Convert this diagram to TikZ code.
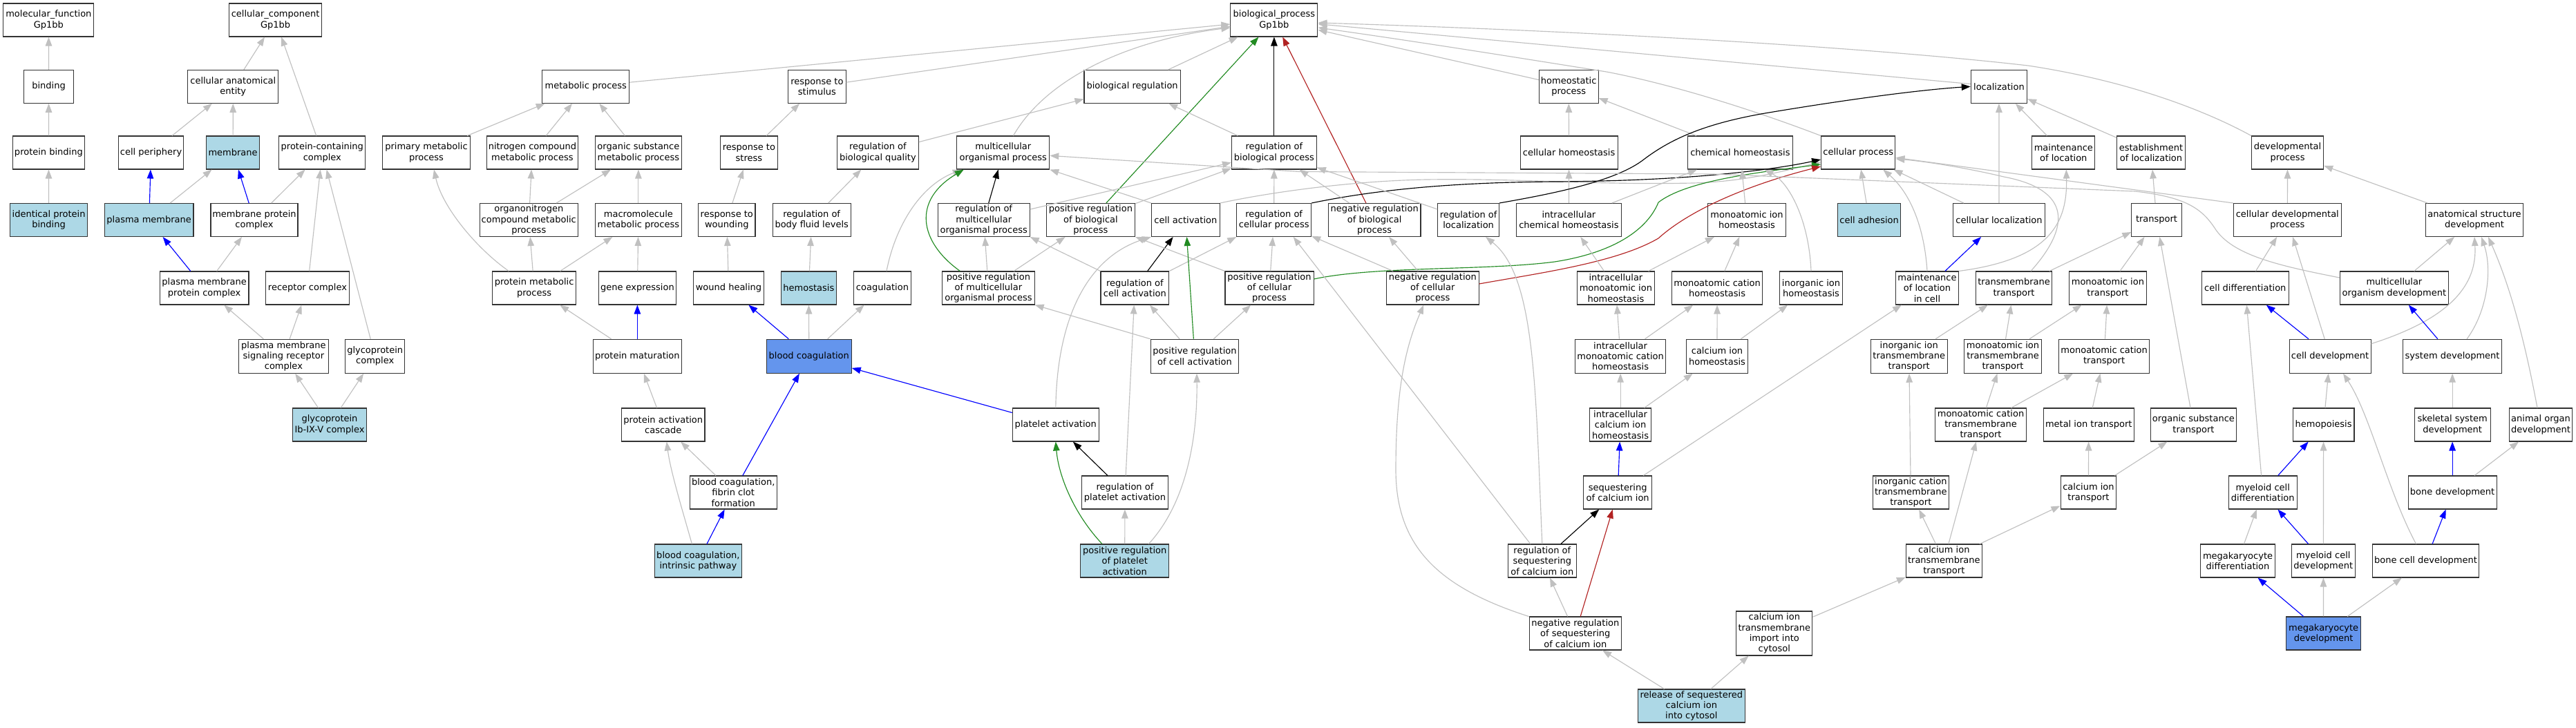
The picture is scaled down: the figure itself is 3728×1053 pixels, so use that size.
\documentclass[tikz,border=0pt]{standalone}
\usepackage{fontspec}
\setmainfont{DejaVu Sans}
\usetikzlibrary{arrows.meta}
\definecolor{lbl}{HTML}{ADD8E6}
\definecolor{cfb}{HTML}{6495ED}
\definecolor{egray}{HTML}{C0C0C0}
\definecolor{egreen}{HTML}{228B22}
\definecolor{ered}{HTML}{B22222}
\tikzset{
 box/.style={draw=black!80, line width=1.05pt, fill=white, align=center, inner sep=0pt, minimum height=48pt, font=\fontsize{13}{15.2}\selectfont},
 lbox/.style={box, fill=lbl},
 cbox/.style={box, fill=cfb},
 ed/.style={draw=egray, line width=1.15pt, -{Triangle[length=13pt,width=9.5pt]}},
 edb/.style={ed, draw=blue},
 edk/.style={ed, draw=black},
 edg/.style={ed, draw=egreen},
 edr/.style={ed, draw=ered},
}
\begin{document}
\begin{tikzpicture}[x=1pt,y=-1pt]
\useasboundingbox (0,0) rectangle (3728,1053);
% ---------- row 1
\node[box,minimum width=131pt] (mf) at (70.4,29) {molecular\_function\\Gp1bb};
\node[box,minimum width=134pt] (cc) at (398.6,29) {cellular\_component\\Gp1bb};
\node[box,minimum width=126pt] (bp) at (1843.9,29) {biological\_process\\Gp1bb};
% ---------- row 2
\node[box,minimum width=72.6pt] (bind) at (70.6,125.3) {binding};
\node[box,minimum width=131pt] (cae) at (337.3,125.3) {cellular anatomical\\entity};
\node[box,minimum width=125.7pt] (mp) at (847.8,125.3) {metabolic process};
\node[box,minimum width=83.3pt] (rstim) at (1182.4,125.3) {response to\\stimulus};
\node[box,minimum width=139.2pt] (breg) at (1638.6,125.3) {biological regulation};
\node[box,minimum width=85.7pt] (homp) at (2270.2,125.3) {homeostatic\\process};
\node[box,minimum width=81.3pt] (loc) at (2892.9,125.3) {localization};
% ---------- row 3
\node[box,minimum width=104pt] (pb) at (70.4,221) {protein binding};
\node[box,minimum width=94.3pt] (cper) at (218.6,221) {cell periphery};
\node[lbox,minimum width=77.5pt] (memb) at (337.1,221) {membrane};
\node[box,minimum width=125.3pt] (pcc) at (466.3,221) {protein-containing\\complex};
\node[box,minimum width=126.5pt] (pmp) at (617,221) {primary metabolic\\process};
\node[box,minimum width=131.8pt] (ncmp) at (770.4,221) {nitrogen compound\\metabolic process};
\node[box,minimum width=125.3pt] (osmp) at (923.9,221) {organic substance\\metabolic process};
\node[box,minimum width=82.9pt] (rstress) at (1083.9,221) {response to\\stress};
\node[box,minimum width=118pt] (rbq) at (1270.4,221) {regulation of\\biological quality};
\node[box,minimum width=133.9pt] (mop) at (1451.8,221) {multicellular\\organismal process};
\node[box,minimum width=122.9pt] (rbp) at (1843.9,221) {regulation of\\biological process};
\node[box,minimum width=141.2pt] (chom) at (2270.6,221) {cellular homeostasis};
\node[box,minimum width=152pt] (chemh) at (2518.4,221) {chemical homeostasis};
\node[box,minimum width=107.3pt] (cp) at (2689.2,221) {cellular process};
\node[box,minimum width=91pt] (mol) at (2986.3,221) {maintenance\\of location};
\node[box,minimum width=98.7pt] (eol) at (3113,221) {establishment\\of localization};
\node[box,minimum width=104.2pt] (dp) at (3310.5,221) {developmental\\process};
% ---------- row 4
\node[lbox,minimum width=112.6pt] (ipb) at (70.6,318.5) {identical protein\\binding};
\node[lbox,minimum width=128.6pt] (pm) at (215.7,318.5) {plasma membrane};
\node[box,minimum width=126pt] (mpc) at (368,318.5) {membrane protein\\complex};
\node[box,minimum width=142pt] (oncmp) at (765.3,318.5) {organonitrogen\\compound metabolic\\process};
\node[box,minimum width=125.3pt] (mmp) at (923.9,318.5) {macromolecule\\metabolic process};
\node[box,minimum width=82.4pt] (rwound) at (1051.8,318.5) {response to\\wounding};
\node[box,minimum width=112.7pt] (rbfl) at (1174.7,318.5) {regulation of\\body fluid levels};
\node[box,minimum width=133pt] (rmo) at (1423.7,318.5) {regulation of\\multicellular\\organismal process};
\node[box,minimum width=128.2pt] (prbp) at (1578.4,318.5) {positive regulation\\of biological\\process};
\node[box,minimum width=98.8pt] (ca) at (1715.9,318.5) {cell activation};
\node[box,minimum width=107.8pt] (rcp) at (1843.7,318.5) {regulation of\\cellular process};
\node[box,minimum width=133.5pt] (nrbp) at (1989.2,318.5) {negative regulation\\of biological\\process};
\node[box,minimum width=88.6pt] (rloc) at (2125.1,318.5) {regulation of\\localization};
\node[box,minimum width=152.2pt] (ichem) at (2270.4,318.5) {intracellular\\chemical homeostasis};
\node[box,minimum width=112.3pt] (mih) at (2528,318.5) {monoatomic ion\\homeostasis};
\node[lbox,minimum width=91pt] (cadh) at (2705.1,318.5) {cell adhesion};
\node[box,minimum width=133.1pt] (cloc) at (2893,318.5) {cellular localization};
\node[box,minimum width=72.2pt] (trans) at (3121,318.5) {transport};
\node[box,minimum width=155.8pt] (cdp) at (3310.3,318.5) {cellular developmental\\process};
\node[box,minimum width=141.6pt] (asd) at (3581,318.5) {anatomical structure\\development};
% ---------- row 5
\node[box,minimum width=128.6pt] (pmpc) at (295.7,417) {plasma membrane\\protein complex};
\node[box,minimum width=120.4pt] (rc) at (445,417) {receptor complex};
\node[box,minimum width=120.8pt] (pmetp) at (773.1,417) {protein metabolic\\process};
\node[box,minimum width=112.7pt] (gexp) at (922.4,417) {gene expression};
\node[box,minimum width=101.6pt] (wh) at (1054.5,417) {wound healing};
\node[lbox,minimum width=80.4pt] (hemo) at (1170.4,417) {hemostasis};
\node[box,minimum width=82.5pt] (coag) at (1277,417) {coagulation};
\node[box,minimum width=133.4pt] (prmo) at (1430.4,417) {positive regulation\\of multicellular\\organismal process};
\node[box,minimum width=98.8pt] (rca) at (1642.4,417) {regulation of\\cell activation};
\node[box,minimum width=128pt] (prcp) at (1837,417) {positive regulation\\of cellular\\process};
\node[box,minimum width=133.5pt] (nrcp) at (2073.3,417) {negative regulation\\of cellular\\process};
\node[box,minimum width=111.9pt] (imih) at (2338.4,417) {intracellular\\monoatomic ion\\homeostasis};
\node[box,minimum width=131pt] (mch) at (2485.1,417) {monoatomic cation\\homeostasis};
\node[box,minimum width=91pt] (iih) at (2621,417) {inorganic ion\\homeostasis};
\node[box,minimum width=90.6pt] (mlic) at (2789,417) {maintenance\\of location\\in cell};
\node[box,minimum width=109.8pt] (tt) at (2914.5,417) {transmembrane\\transport};
\node[box,minimum width=112.2pt] (mit) at (3050.4,417) {monoatomic ion\\transport};
\node[box,minimum width=125.7pt] (cdiff) at (3249.3,417) {cell differentiation};
\node[box,minimum width=157.4pt] (mod) at (3464.9,417) {multicellular\\organism development};
% ---------- row 6
\node[box,minimum width=129.4pt,minimum height=49pt] (pmsrc) at (410.4,515.7) {plasma membrane\\signaling receptor\\complex};
\node[box,minimum width=86pt,minimum height=49pt] (gpc) at (542.7,515.7) {glycoprotein\\complex};
\node[box,minimum width=128.2pt,minimum height=49pt] (pmat) at (922.4,515.7) {protein maturation};
\node[cbox,minimum width=122.8pt,minimum height=49pt] (bc) at (1170.8,515.7) {blood coagulation};
\node[box,minimum width=127.7pt,minimum height=49pt] (prca) at (1729,515.7) {positive regulation\\of cell activation};
\node[box,minimum width=131pt,minimum height=49pt] (imch) at (2345.1,515.7) {intracellular\\monoatomic cation\\homeostasis};
\node[box,minimum width=89pt,minimum height=49pt] (cih) at (2485,515.7) {calcium ion\\homeostasis};
\node[box,minimum width=110.6pt,minimum height=49pt] (iitt) at (2762.7,515.7) {inorganic ion\\transmembrane\\transport};
\node[box,minimum width=112.2pt,minimum height=49pt] (mitt) at (2898.5,515.7) {monoatomic ion\\transmembrane\\transport};
\node[box,minimum width=131pt,minimum height=49pt] (mct) at (3045.1,515.7) {monoatomic cation\\transport};
\node[box,minimum width=118pt,minimum height=49pt] (cdev) at (3372,515.7) {cell development};
\node[box,minimum width=143.6pt,minimum height=49pt] (sysdev) at (3549.1,515.7) {system development};
% ---------- row 7
\node[lbox,minimum width=107.8pt] (gpib) at (477,615) {glycoprotein\\Ib-IX-V complex};
\node[box,minimum width=120.4pt] (pac) at (959.8,615) {protein activation\\cascade};
\node[box,minimum width=125pt] (pa) at (1527.8,615) {platelet activation};
\node[box,minimum width=88.6pt] (icih) at (2345.1,615) {intracellular\\calcium ion\\homeostasis};
\node[box,minimum width=131.4pt] (mctt) at (2866.5,615) {monoatomic cation\\transmembrane\\transport};
\node[box,minimum width=131pt] (mitr) at (3022.7,615) {metal ion transport};
\node[box,minimum width=123.3pt] (ost) at (3174.4,615) {organic substance\\transport};
\node[box,minimum width=88.7pt] (hemop) at (3362.6,615) {hemopoiesis};
\node[box,minimum width=110.2pt] (ssd) at (3549.1,615) {skeletal system\\development};
\node[box,minimum width=91.1pt] (aod) at (3677,615) {animal organ\\development};
% ---------- row 8
\node[box,minimum width=125.7pt] (fcf) at (1061.2,713) {blood coagulation,\\fibrin clot\\formation};
\node[box,minimum width=125.3pt] (rpa) at (1628,713) {regulation of\\platelet activation};
\node[box,minimum width=98.8pt] (seq) at (2341.2,713) {sequestering\\of calcium ion};
\node[box,minimum width=110.2pt] (ictt) at (2765.3,713) {inorganic cation\\transmembrane\\transport};
\node[box,minimum width=80.8pt] (cit) at (3022.4,713) {calcium ion\\transport};
\node[box,minimum width=99.2pt] (mcd) at (3274.7,713) {myeloid cell\\differentiation};
\node[box,minimum width=128.2pt] (bdev) at (3549.1,713) {bone development};
% ---------- row 9
\node[lbox,minimum width=126.1pt] (bcip) at (1010.4,812) {blood coagulation,\\intrinsic pathway};
\node[lbox,minimum width=128.2pt] (prpa) at (1627.7,812) {positive regulation\\of platelet\\activation};
\node[box,minimum width=98.8pt] (rseq) at (2231.8,812) {regulation of\\sequestering\\of calcium ion};
\node[box,minimum width=109.8pt] (citt) at (2813.3,812) {calcium ion\\transmembrane\\transport};
\node[box,minimum width=107.4pt] (megdiff) at (3238.5,812) {megakaryocyte\\differentiation};
\node[box,minimum width=91.5pt] (mcdev) at (3362.3,812) {myeloid cell\\development};
\node[box,minimum width=154.2pt] (bcd) at (3510.5,812) {bone cell development};
% ---------- row 10
\node[box,minimum width=133.5pt] (nrseq) at (2279.8,917) {negative regulation\\of sequestering\\of calcium ion};
\node[box,minimum width=110.2pt,minimum height=64pt] (citic) at (2567.8,917) {calcium ion\\transmembrane\\import into\\cytosol};
\node[cbox,minimum width=107.4pt] (megdev) at (3362.6,917) {megakaryocyte\\development};
% ---------- row 11
\node[lbox,minimum width=155pt] (rel) at (2447.8,1022) {release of sequestered\\calcium ion\\into cytosol};

% ================= edges
% molecular function
\draw[ed] (bind) -- (mf);
\draw[ed] (pb) -- (bind);
\draw[ed] (ipb) -- (pb);
% cellular component
\draw[ed] (cae) -- (cc);
\draw[ed] (pcc) -- (cc);
\draw[ed] (cper) -- (cae);
\draw[ed] (memb) -- (cae);
\draw[edb] (pm) -- (cper);
\draw[ed] (pm) -- (memb);
\draw[edb] (mpc) -- (memb);
\draw[ed] (mpc) -- (pcc);
\draw[edb] (pmpc) -- (pm);
\draw[ed] (pmpc) -- (mpc);
\draw[ed] (rc) -- (pcc);
\draw[ed] (gpc) -- (pcc);
\draw[ed] (pmsrc) -- (pmpc);
\draw[ed] (pmsrc) -- (rc);
\draw[ed] (gpib) -- (pmsrc);
\draw[ed] (gpib) -- (gpc);
% into biological_process
\draw[ed] (mp) -- (bp);
\draw[ed] (rstim) -- (bp);
\draw[ed] (breg) -- (bp);
\draw[ed] ([xshift=14.7pt]mop.north) .. controls (1510,120) and (1620,60) .. ([yshift=-11pt]bp.west);
\draw[edk] (rbp) -- (bp);
\draw[edr] (nrbp) -- (bp);
\draw[edg] (prbp) -- (bp);
\draw[ed] (homp) -- (bp);
\draw[ed] (loc) -- (bp);
\draw[ed] (cp.north west) .. controls (2540,160) and (2420,122) .. (2325,104) .. controls (2200,84) and (2050,60) .. ([yshift=-11pt]bp.east);
\draw[ed] (dp.north west) .. controls (3210,170) and (3100,120) .. (2935,95) .. controls (2700,68) and (2300,45) .. ([yshift=-4pt]bp.east);
% metabolic and response
\draw[ed] (ncmp) -- (mp);
\draw[ed] (osmp) -- (mp);
\draw[ed] (pmp) -- (mp);
\draw[ed] (rstress) -- (rstim);
\draw[ed] (rbq) -- (breg);
\draw[ed] (rbp) -- (breg);
\draw[ed] (oncmp) -- (ncmp);
\draw[ed] (oncmp) -- (osmp);
\draw[ed] (mmp) -- (osmp);
\draw[ed] (rwound) -- (rstress);
\draw[ed] (rbfl) -- (rbq);
\draw[ed] ([xshift=-36.8pt]pmetp.north) .. controls (690,360) and (640,300) .. ([xshift=11pt]pmp.south);
\draw[ed] (pmetp) -- (oncmp);
\draw[ed] (pmetp) -- (mmp);
\draw[ed] (gexp) -- (mmp);
\draw[ed] (wh) -- (rwound);
\draw[ed] (hemo) -- (rbfl);
\draw[ed] ([xshift=6pt]coag.north) .. controls (1295,330) and (1330,270) .. ([xshift=-60pt]mop.south);
\draw[ed] (pmat) -- (pmetp);
\draw[edb] (pmat) -- (gexp);
\draw[edb] (bc) -- (wh);
\draw[ed] (bc) -- (hemo);
\draw[ed] (bc) -- (coag);
\draw[ed] (pac) -- (pmat);
\draw[ed] (fcf) -- (pac);
\draw[edb] (fcf) -- (bc);
\draw[ed] ([xshift=-9pt]bcip.north) .. controls (985,730) and (970,680) .. ([xshift=5pt]pac.south);
\draw[edb] (bcip) -- (fcf);
\draw[edb] (pa) -- (bc);
\draw[ed] (pa.north) .. controls (1530,450) and (1580,370) .. (ca.south west);
% regulation
\draw[edk] (rmo) -- (mop);
\draw[ed] (rmo) -- (rbp);
\draw[ed] (prbp) -- (rbp);
\draw[ed] (ca.north west) -- (mop.south east);
\draw[ed] (ca.north east) .. controls (1830,280) and (1950,262) .. (2064,260) .. controls (2200,258) and (2300,268) .. (2450,265) .. controls (2530,263) and (2590,245) .. ([yshift=-14pt]cp.west);
\draw[ed] (rca.north west) -- (rmo.south east);
\draw[ed] (rca.north east) -- (rcp.south west);
\draw[edk] (rca) -- (ca);
\draw[ed] (prmo) -- (rmo);
\draw[ed] (prmo) -- (prbp);
\draw[edg] ([xshift=-41pt]prmo.north) .. controls (1330,350) and (1320,290) .. ([xshift=-57pt]mop.south);
\draw[ed] (rcp) -- (rbp);
\draw[edk] (rcp.north east) .. controls (1990,275) and (2100,264) .. (2250,263) .. controls (2450,262) and (2570,245) .. ([yshift=-10pt]cp.west);
\draw[edg] ([yshift=13pt]prcp.east) .. controls (1990,385) and (2150,392) .. (2250,379) .. controls (2340,365) and (2385,330) .. (2400,293) .. controls (2440,262) and (2540,250) .. ([yshift=-17pt]cp.west);
\draw[edr] ([yshift=6pt]nrcp.east) .. controls (2230,395) and (2340,380) .. (2400,345) .. controls (2450,300) and (2540,265) .. ([yshift=-20pt]cp.west);
\draw[ed] (prcp.north west) -- (prbp.south east);
\draw[ed] (prcp) -- (rcp);
\draw[ed] (prca.north west) -- (prmo.south east);
\draw[ed] (prca) -- (rca);
\draw[edg] (prca) -- (ca);
\draw[ed] (prca) -- (prcp);
\draw[edk] (rpa) -- (pa);
\draw[ed] (rpa) -- (rca);
\draw[edg] ([xshift=-32.7pt]prpa.north) .. controls (1555,745) and (1532,690) .. (pa.south);
\draw[ed] (prpa) -- (rpa);
\draw[ed] ([xshift=34.7pt]prpa.north) .. controls (1715,730) and (1733,640) .. ([xshift=3pt]prca.south);
% homeostasis
\draw[ed] (chom) -- (homp);
\draw[ed] (chemh) -- (homp);
\draw[ed] (ichem) -- (chom);
\draw[ed] (ichem) -- (chemh);
\draw[ed] (mih) -- (chemh);
\draw[ed] (iih.north) .. controls (2618,320) and (2590,265) .. ([xshift=35pt]chemh.south);
\draw[ed] (nrbp) -- (rbp);
\draw[ed] (rloc) -- (rbp);
\draw[edk] (rloc.north east) .. controls (2250,280) and (2340,262) .. (2380,230) .. controls (2420,200) and (2470,178) .. (2560,163) .. controls (2680,143) and (2780,130) .. (loc.west);
\draw[ed] (nrcp) -- (nrbp);
\draw[ed] (nrcp) -- (rcp);
\draw[ed] (imih) -- (ichem);
\draw[ed] (imih) -- (mih);
\draw[ed] (mch) -- (mih);
\draw[ed] (imch) -- (imih);
\draw[ed] (imch) -- (mch);
\draw[ed] (cih) -- (mch);
\draw[ed] (cih) -- (iih);
\draw[ed] (icih) -- (imch);
\draw[ed] (icih) -- (cih);
\draw[edb] (seq) -- (icih);
\draw[ed] (seq) -- (mlic);
\draw[edk] (rseq) -- (seq);
\draw[ed] ([xshift=-17pt]rseq.north) -- ([xshift=28pt]rcp.south);
\draw[ed] (rseq.north) .. controls (2222,560) and (2222,400) .. ([xshift=25pt]rloc.south);
\draw[ed] (nrseq) -- (rseq);
\draw[edr] (nrseq) -- (seq);
\draw[ed] (nrseq.north west) .. controls (2080,850) and (2020,790) .. (2020,680) .. controls (2020,560) and (2035,500) .. ([xshift=-13pt]nrcp.south);
\draw[ed] (rel) -- (nrseq);
\draw[ed] (rel) -- (citic);
% localization and transport
\draw[ed] (mol) -- (loc);
\draw[ed] (eol) -- (loc);
\draw[ed] (cloc) -- (loc);
\draw[ed] (cloc) -- (cp);
\draw[ed] (cadh) -- (cp);
\draw[ed] (mlic.north) .. controls (2785,330) and (2765,280) .. ([xshift=36pt]cp.south);
\draw[edb] (mlic) -- (cloc);
\draw[ed] (mlic.north east) .. controls (2970,375) and (2992,320) .. ([xshift=4pt]mol.south);
\draw[ed] ([xshift=24.5pt]tt.north) .. controls (2995,330) and (3000,275) .. (2900,256) .. controls (2850,244) and (2790,234) .. ([yshift=-9pt]cp.east);
\draw[ed] (trans) -- (eol);
\draw[ed] (tt) -- (trans);
\draw[ed] (mit) -- (trans);
\draw[ed] (iitt) -- (tt);
\draw[ed] (mitt) -- (tt);
\draw[ed] (mitt) -- (mit);
\draw[ed] (mct) -- (mit);
\draw[ed] (ost) -- (trans);
\draw[ed] (mctt) -- (mitt);
\draw[ed] (mctt) -- (mct);
\draw[ed] (mitr) -- (mct);
\draw[ed] (ictt) -- (iitt);
\draw[ed] (cit) -- (mitr);
\draw[ed] (cit) -- (ost);
\draw[ed] (citt) -- (ictt);
\draw[ed] (citt) -- (mctt);
\draw[ed] (citt) -- (cit);
\draw[ed] (citic) -- (citt);
% development
\draw[ed] (cdp) -- (dp);
\draw[ed] (cdp.north west) -- (cp);
\draw[ed] (asd) -- (dp);
\draw[ed] (cdiff) -- (cdp);
\draw[ed] (mod) -- (asd);
\draw[ed] ([yshift=15pt]mod.west) .. controls (3300,385) and (3230,370) .. (3205,330) .. controls (3185,300) and (3160,285) .. (3090,277) -- (2480,252) -- (1880,248.5) -- (mop);
\draw[edb] (cdev) -- (cdiff);
\draw[ed] (cdev) -- (cdp);
\draw[ed] ([yshift=18pt]cdev.east) .. controls (3550,460) and (3585,410) .. (asd.south);
\draw[edb] (sysdev) -- (mod);
\draw[ed] ([xshift=21pt]sysdev.north) .. controls (3600,450) and (3607,390) .. ([xshift=10pt]asd.south);
\draw[ed] ([xshift=-5pt]aod.north) .. controls (3655,500) and (3635,420) .. ([xshift=20pt]asd.south);
\draw[ed] (hemop) -- (cdev);
\draw[ed] (ssd) -- (sysdev);
\draw[edb] (mcd) -- (hemop);
\draw[ed] (mcd) -- (cdiff);
\draw[edb] (bdev) -- (ssd);
\draw[ed] (bdev) -- (aod);
\draw[ed] (megdiff) -- (mcd);
\draw[edb] (mcdev) -- (mcd);
\draw[ed] (mcdev) -- (hemop);
\draw[edb] (bcd) -- (bdev);
\draw[ed] ([xshift=-14pt]bcd.north) .. controls (3455,710) and (3430,600) .. ([xshift=19pt]cdev.south);
\draw[edb] (megdev) -- (megdiff);
\draw[ed] (megdev) -- (mcdev);
\draw[ed] (megdev) -- (bcd);
\end{tikzpicture}
\end{document}
